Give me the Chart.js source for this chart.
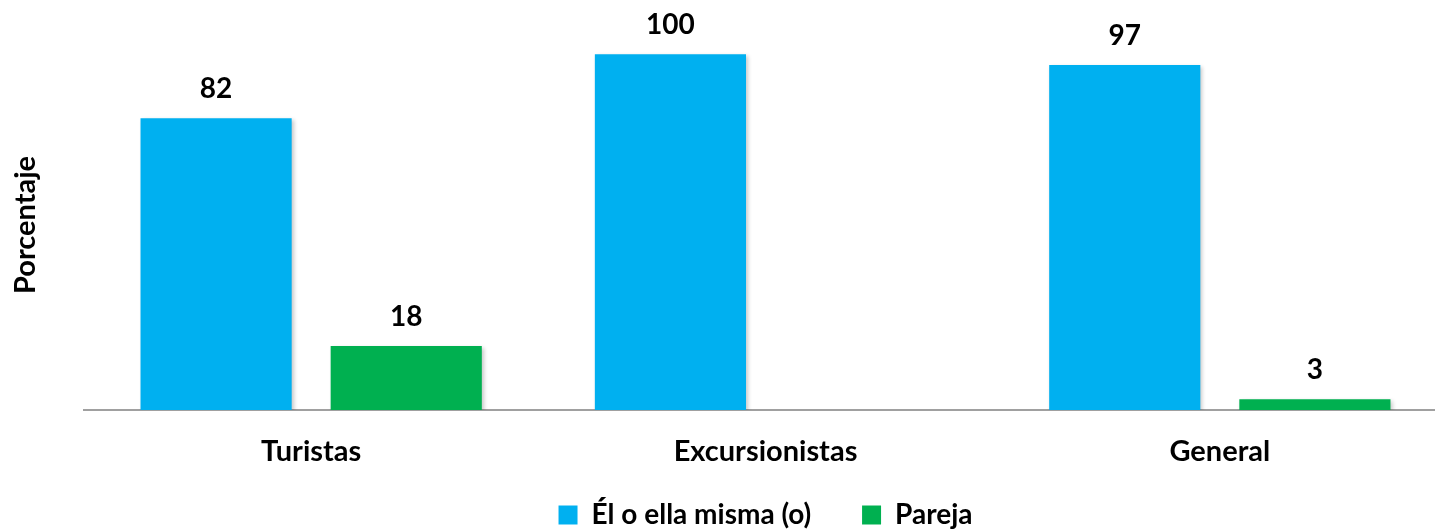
<!DOCTYPE html>
<html>
<head>
<meta charset="utf-8">
<script src="https://cdn.jsdelivr.net/npm/chart.js@4/dist/chart.umd.min.js"></script>
<style>
  html, body { margin: 0; padding: 0; background: #fff; overflow: hidden; }
  #wrap { width: 1447px; height: 539px; }
</style>
</head>
<body>
<div id="wrap"><canvas id="chart"></canvas></div>
<script>
// datos
const categorias = ['Turistas', 'Excursionistas', 'General'];
const ellaMisma = [82, 100, 97];
const pareja = [18, null, 3];

Chart.defaults.font.family = 'Lato, "Open Sans", sans-serif';
Chart.defaults.font.weight = 'bold';
Chart.defaults.font.size = 29;
Chart.defaults.color = '#000';

// etiquetas de valor + sombra de barras
const valoresPlugin = {
    id: 'valores',
    beforeDatasetsDraw(chart) {
        const ctx = chart.ctx;
        ctx.save();
        ctx.shadowColor = 'rgba(0,0,0,0.22)';
        ctx.shadowBlur = 4;
        ctx.shadowOffsetX = 2;
        ctx.shadowOffsetY = 2;
    },
    afterDatasetsDraw(chart) {
        const ctx = chart.ctx;
        ctx.restore();
        ctx.save();
        ctx.font = 'bold 28px Lato, "Open Sans", sans-serif';
        ctx.fillStyle = '#000';
        ctx.textAlign = 'center';
        ctx.textBaseline = 'middle';
        chart.data.datasets.forEach((ds, i) => {
            const meta = chart.getDatasetMeta(i);
            meta.data.forEach((bar, j) => {
                const v = ds.data[j];
                if (v === null || v === undefined) return;
                ctx.fillText(v, bar.x, bar.y - 29);
            });
        });
        ctx.restore();
    }
};

new Chart(document.getElementById('chart').getContext('2d'), {
    type: 'bar',
    data: {
        labels: categorias,
        datasets: [
            {
                label: 'Él o ella misma (o)',
                data: ellaMisma,
                backgroundColor: '#00B0F0',
                categoryPercentage: 0.837,
                barPercentage: 0.795
            },
            {
                label: 'Pareja',
                data: pareja,
                backgroundColor: '#00B050',
                categoryPercentage: 0.837,
                barPercentage: 0.795
            }
        ]
    },
    options: {
        responsive: true,
        maintainAspectRatio: false,
        animation: false,
        layout: {
            padding: { top: 40, left: 0, right: 0, bottom: 0 }
        },
        plugins: {
            legend: {
                position: 'bottom',
                fullSize: false,
                labels: {
                    boxWidth: 19,
                    boxHeight: 19,
                    padding: 10,
                    font: { size: 28, weight: 'bold' },
                    generateLabels(chart) {
                        const items = Chart.defaults.plugins.legend.labels.generateLabels(chart);
                        // separación extra entre las dos entradas
                        items[0].text = items[0].text + '      ';
                        return items;
                    }
                }
            },
            tooltip: { enabled: false }
        },
        scales: {
            x: {
                grid: { display: false, drawTicks: false },
                border: { display: true, color: '#A0A0A0', width: 2 },
                ticks: { padding: 24 },
                afterFit(scale) { scale.height = 81; }
            },
            y: {
                min: 0,
                max: 104,
                grid: { display: false, drawTicks: false },
                border: { display: false },
                ticks: { display: false },
                title: {
                    display: true,
                    text: 'Porcentaje',
                    padding: { top: 8, bottom: 0 }
                },
                afterFit(scale) { scale.width = 84; }
            }
        }
    },
    plugins: [valoresPlugin]
});
</script>
</body>
</html>
